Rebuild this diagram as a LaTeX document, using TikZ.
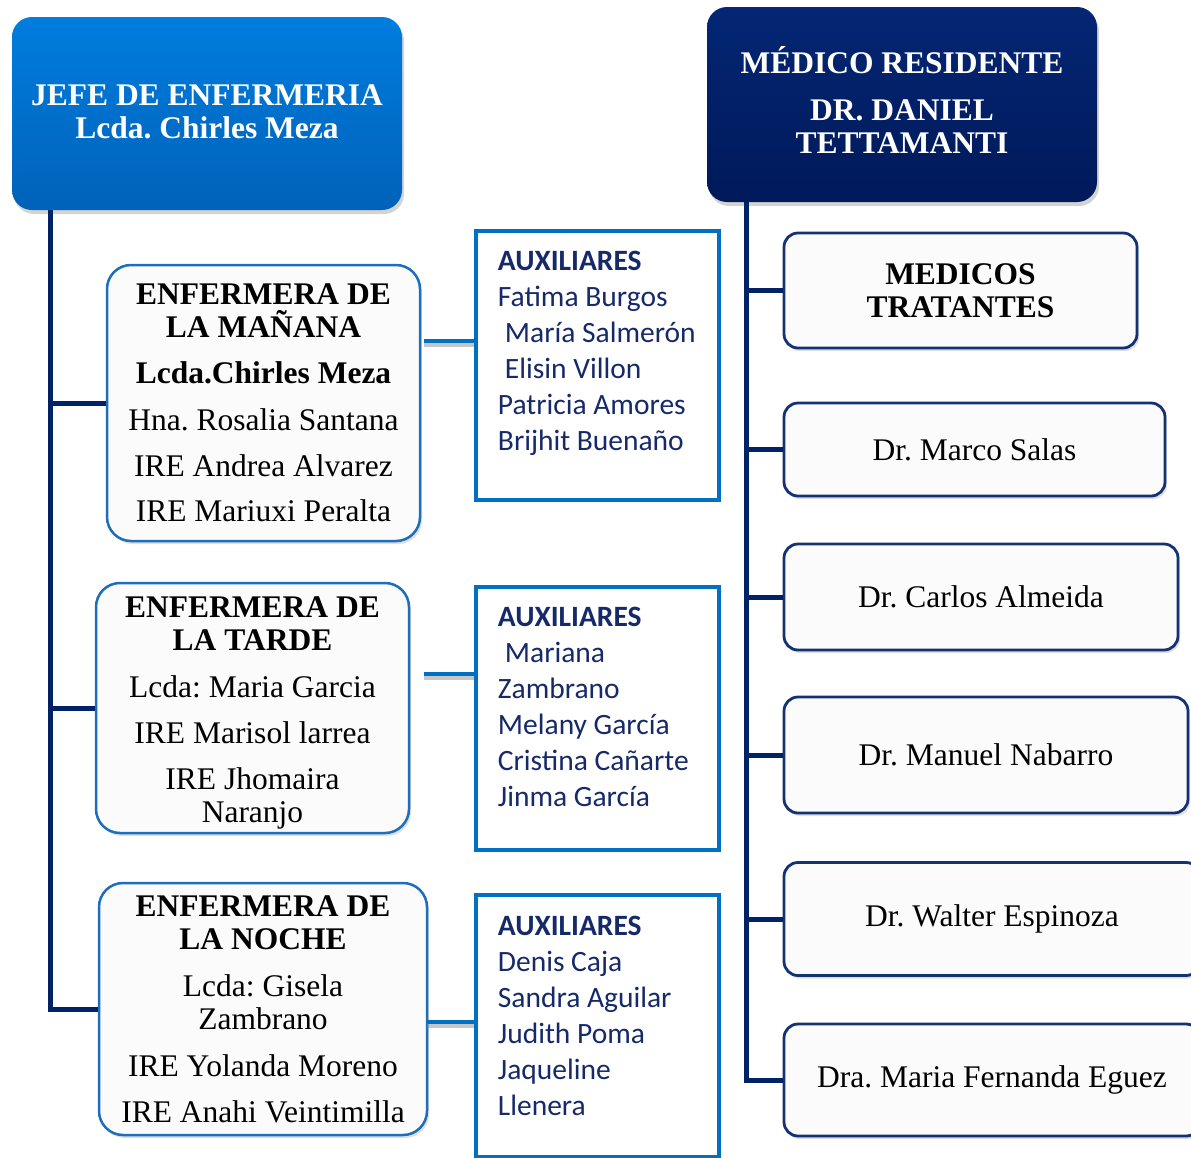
\documentclass[tikz,border=0pt]{standalone}
\usepackage{fontspec}
\setmainfont{Liberation Serif}
\newfontfamily\auxfont{Carlito}
\usetikzlibrary{shadows}
\definecolor{navy}{RGB}{0,34,102}
\definecolor{jefetop}{RGB}{0,125,222}
\definecolor{jefebot}{RGB}{0,98,185}
\definecolor{medtop}{RGB}{4,38,116}
\definecolor{medbot}{RGB}{0,26,90}
\definecolor{nurseborder}{RGB}{30,110,190}
\definecolor{auxblue}{RGB}{0,112,192}
\definecolor{auxtext}{RGB}{22,42,105}
\definecolor{docborder}{RGB}{20,50,115}
\tikzset{
  x=1pt,y=-1pt,
  topbox/.style={rounded corners=20pt, draw=none, text=white,
    font=\fontsize{31.5}{33}\selectfont\bfseries, align=center, inner sep=0pt,
    drop shadow={shadow xshift=2pt,shadow yshift=-4pt,opacity=0.35}},
  nursebox/.style={rounded corners=24pt, draw=nurseborder, line width=2.5pt,
    fill=gray!3, align=center, font=\fontsize{31.5}{33}\selectfont, inner sep=0pt,
    drop shadow={shadow xshift=2pt,shadow yshift=-3pt,opacity=0.25}},
  auxbox/.style={draw=auxblue, line width=4.5pt, fill=white, inner sep=0pt},
  auxtxt/.style={font=\auxfont\fontsize{29.5}{36}\selectfont, text=auxtext,
    align=left, anchor=north west, inner sep=0pt},
  docbox/.style={rounded corners=14pt, draw=docborder, line width=2.8pt,
    fill=gray!3, font=\fontsize{31.5}{33}\selectfont, align=center, inner sep=0pt,
    drop shadow={shadow xshift=2pt,shadow yshift=-3pt,opacity=0.25}},
  trunk/.style={draw=navy, line width=5pt},
  auxconn/.style={draw=auxblue, line width=4.5pt},
  connshadow/.style={draw=gray, line width=4pt, opacity=0.45},
}
\begin{document}
\frenchspacing
\begin{tikzpicture}
\useasboundingbox (0,0) rectangle (1191,1157);
% top boxes
\node[topbox, top color=jefetop, bottom color=jefebot, minimum width=390pt, minimum height=193pt]
  (jefe) at (207,113.5) {JEFE DE ENFERMERIA\\Lcda. Chirles Meza\rule[-4pt]{0pt}{4pt}};
\node[topbox, top color=medtop, bottom color=medbot, minimum width=390pt, minimum height=195pt]
  (medico) at (902,104.5) {MÉDICO RESIDENTE\\[14pt]DR. DANIEL\\TETTAMANTI\rule[-10pt]{0pt}{10pt}};
% nurse boxes
\node[nursebox, minimum width=313pt, minimum height=276pt] (manana) at (263.5,403)
  {\textbf{ENFERMERA DE}\\\textbf{LA MAÑANA}\\[13pt]\textbf{Lcda.Chirles Meza}\\[14pt]Hna. Rosalia Santana\\[13pt]IRE Andrea Alvarez\\[12pt]IRE Mariuxi Peralta};
\node[nursebox, minimum width=313pt, minimum height=250pt] (tarde) at (252.5,708)
  {\rule{0pt}{30pt}\textbf{ENFERMERA DE}\\\textbf{LA TARDE}\\[14pt]Lcda: Maria Garcia\\[13pt]IRE Marisol larrea\\[13pt]IRE Jhomaira\\Naranjo};
\node[nursebox, minimum width=328pt, minimum height=252pt] (noche) at (263,1009)
  {\textbf{ENFERMERA DE}\\\textbf{LA NOCHE}\\[14pt]Lcda: Gisela\\Zambrano\\[14pt]IRE Yolanda Moreno\\[13pt]IRE Anahi Veintimilla};
% auxiliares
\node[auxbox, minimum width=243pt, minimum height=269pt] (aux1) at (597.5,365.5) {};
\node[auxbox, minimum width=243pt, minimum height=263pt] (aux2) at (597.5,718.5) {};
\node[auxbox, minimum width=243pt, minimum height=262pt] (aux3) at (597.5,1026) {};
\node[auxtxt] (aux1t) at ([xshift=24pt,yshift=-22pt]aux1.north west)
  {\textbf{AUXILIARES}\\Fatima Burgos\\\hspace{7pt}María Salmerón\\\hspace{7pt}Elisin Villon\\Patricia Amores\\Brijhit Buenaño};
\node[auxtxt] (aux2t) at ([xshift=24pt,yshift=-22pt]aux2.north west)
  {\textbf{AUXILIARES}\\\hspace{7pt}Mariana\\Zambrano\\Melany García\\Cristina Cañarte\\Jinma García};
\node[auxtxt] (aux3t) at ([xshift=24pt,yshift=-23pt]aux3.north west)
  {\textbf{AUXILIARES}\\Denis Caja\\Sandra Aguilar\\Judith Poma\\Jaqueline\\Llenera};
% doctors
\node[docbox, minimum width=353pt, minimum height=115pt] (medicos) at (960.5,290.5) {\textbf{MEDICOS}\\\textbf{TRATANTES}};
\node[docbox, minimum width=381pt, minimum height=93pt] (marco) at (974.5,449.5) {Dr. Marco Salas};
\node[docbox, minimum width=394pt, minimum height=106pt] (carlos) at (981,597) {Dr. Carlos Almeida};
\node[docbox, minimum width=404pt, minimum height=116pt] (manuel) at (986,755) {Dr. Manuel Nabarro};
\node[docbox, minimum width=416pt, minimum height=113pt] (walter) at (992,919) {Dr. Walter Espinoza};
\node[docbox, minimum width=416pt, minimum height=112pt] (maria) at (992,1080) {Dra. Maria Fernanda Eguez};
% trunks
\coordinate (lt) at (50,0);
\coordinate (rt) at (746,0);
\draw[trunk] (jefe.south -| lt) |- (noche.west);
\draw[trunk] (manana.west) -- (manana.west -| lt);
\draw[trunk] (tarde.west) -- (tarde.west -| lt);
\draw[trunk] (medico.south -| rt) |- (maria.west);
\foreach \n in {medicos,marco,carlos,manuel,walter}
  \draw[trunk] (\n.west) -- (\n.west -| rt);
% connectors to auxiliares
\coordinate (c1) at (424,341);
\coordinate (c2) at (424,674);
\coordinate (c3) at (427,1022);
\draw[connshadow] ([yshift=-4pt]c1) -- ([yshift=-4pt]c1 -| aux1.west);
\draw[connshadow] ([yshift=-4pt]c2) -- ([yshift=-4pt]c2 -| aux2.west);
\draw[connshadow] ([yshift=-4pt]c3) -- ([yshift=-4pt]c3 -| aux3.west);
\draw[auxconn] (c1) -- (c1 -| aux1.west);
\draw[auxconn] (c2) -- (c2 -| aux2.west);
\draw[auxconn] (c3) -- (c3 -| aux3.west);
\end{tikzpicture}
\end{document}
